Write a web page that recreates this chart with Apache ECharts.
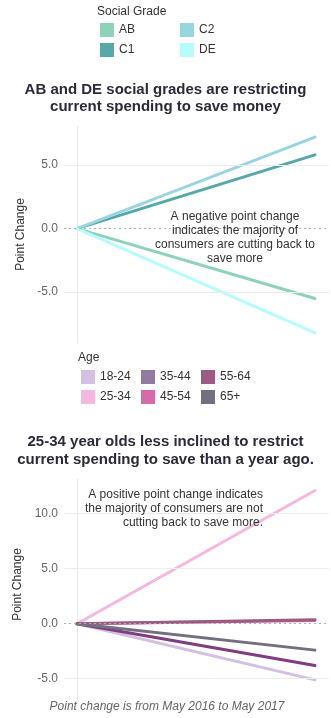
<!DOCTYPE html>
<html>
<head>
<meta charset="utf-8">
<script src="https://cdn.jsdelivr.net/npm/echarts@6/dist/echarts.min.js"></script>
<style>
html,body{margin:0;padding:0;background:#fff;}
#chart{width:331px;height:718px;}
</style>
</head>
<body>
<div id="chart"></div>
<script>
// ---- data ----
const periods = ['May 2016', 'May 2017'];
const socialGrades = ['AB', 'C1', 'C2', 'DE'];
const socialStart = [0, 0, 0, 0];
const socialEnd = [-5.5, 5.8, 7.2, -8.2];
const socialColors = ['#8fd1b9', '#57a8a8', '#99d5e0', '#b6fcfc'];
const ageGroups = ['18-24', '25-34', '35-44', '45-54', '55-64', '65+'];
const ageStart = [0, 0, 0, 0, 0, 0];
const ageEnd = [-5.1, 12.1, -3.8, 0.3, 0.35, -2.4];
const ageLegendColors = ['#d5bfe3', '#f5b6df', '#937aa0', '#d76aa9', '#9b5b82', '#747080'];
const ageLineColors = ['#d5bfe3', '#f5b6df', '#7f3d7f', '#d76aa9', '#9b5b82', '#747080'];
const yTicks1 = [-5, 0, 5];
const yTicks2 = [-5, 0, 5, 10];

const FONT = '"Liberation Sans", Arial, sans-serif';
const chart = echarts.init(document.getElementById('chart'), null, {renderer: 'canvas'});

function yAxis(gridIndex, min, max, splitNumber, ticks, namePad) {
  return {
    type: 'value', gridIndex, min, max, splitNumber,
    name: 'Point Change', nameLocation: 'middle', nameGap: 36, nameRotate: 90,
    nameTextStyle: {fontFamily: FONT, fontSize: 12, color: '#333', padding: namePad},
    axisLine: {show: true, lineStyle: {color: '#e8e8e8', width: 1}},
    axisTick: {show: false},
    splitLine: {show: false},
    axisLabel: {
      fontFamily: FONT, fontSize: 12, color: '#666', margin: 6,
      showMinLabel: true, showMaxLabel: true,
      formatter: v => ticks.some(t => Math.abs(t - v) < 1e-6) ? v.toFixed(1) : ''
    }
  };
}
function xAxis(gridIndex) {
  return {type: 'value', gridIndex, min: -0.0546, max: 1.059, show: false};
}
function gridMarks(ticks) {
  return {
    silent: true, symbol: 'none', label: {show: false}, animation: false,
    data: ticks.map(t => ({
      yAxis: t,
      lineStyle: t === 0 ? {type: [2, 3], color: '#b0b0b0', width: 1} : {type: 'solid', color: '#ececec', width: 1}
    }))
  };
}

const series = [];
series.push({type: 'line', xAxisIndex: 0, yAxisIndex: 0, data: [], z: 1, markLine: gridMarks(yTicks1)});
socialGrades.forEach((g, i) => {
  series.push({
    name: g, type: 'line', xAxisIndex: 0, yAxisIndex: 0, z: 3,
    data: periods.map((p, k) => [k, k === 0 ? socialStart[i] : socialEnd[i]]),
    symbol: 'none', itemStyle: {color: socialColors[i]},
    lineStyle: {color: socialColors[i], width: 3, cap: 'round'}
  });
});
series.push({type: 'line', xAxisIndex: 1, yAxisIndex: 1, data: [], z: 1, markLine: gridMarks(yTicks2)});
ageGroups.forEach((g, i) => {
  series.push({
    name: g, type: 'line', xAxisIndex: 1, yAxisIndex: 1, z: 3,
    data: periods.map((p, k) => [k, k === 0 ? ageStart[i] : ageEnd[i]]),
    symbol: 'none', itemStyle: {color: ageLegendColors[i]},
    lineStyle: {color: ageLineColors[i], width: 3, cap: 'round'}
  });
});

function legend(names, colors, left, top) {
  return {
    orient: 'vertical', left, top, padding: 0, itemWidth: 14, itemHeight: 14, itemGap: 6,
    icon: 'rect', selectedMode: false,
    textStyle: {fontFamily: FONT, fontSize: 12, color: '#333'},
    data: names.map(n => ({name: n, icon: 'rect', itemStyle: {color: colors[n]}}))
  };
}
const sc = {}; socialGrades.forEach((g, i) => sc[g] = socialColors[i]);
const ac = {}; ageGroups.forEach((g, i) => ac[g] = ageLegendColors[i]);

const option = {
  animation: false,
  backgroundColor: '#fff',
  title: [
    {text: 'AB and DE social grades are restricting\ncurrent spending to save money', left: 'center', top: 81, padding: 0,
     textStyle: {fontFamily: FONT, fontSize: 15, fontWeight: 'bold', color: '#2a2a3a', lineHeight: 17}},
    {text: '25-34 year olds less inclined to restrict\ncurrent spending to save than a year ago.', left: 'center', top: 433, padding: 0,
     textStyle: {fontFamily: FONT, fontSize: 15, fontWeight: 'bold', color: '#2a2a3a', lineHeight: 18}}
  ],
  legend: [
    legend(['AB', 'C1'], sc, 100, 23),
    legend(['C2', 'DE'], sc, 180, 23),
    legend(['18-24', '25-34'], ac, 81, 370),
    legend(['35-44', '45-54'], ac, 141, 370),
    legend(['55-64', '65+'], ac, 201, 370)
  ],
  grid: [
    {left: 64, right: 2, top: 126, height: 217},
    {left: 64, right: 2, top: 479, height: 221}
  ],
  xAxis: [xAxis(0), xAxis(1)],
  yAxis: [yAxis(0, -9.0, 8.07, 3, yTicks1, 0), yAxis(1, -6.93, 13.14, 4, yTicks2, [0, 0, 0, 10])],
  series,
  graphic: [
    {type: 'text', left: 97, top: 6, style: {text: 'Social Grade', font: '12px ' + FONT, fill: '#333'}},
    {type: 'text', left: 78, top: 352, style: {text: 'Age', font: '12px ' + FONT, fill: '#333'}},
    {type: 'text', x: 235, y: 210, z: 10, style: {
      text: 'A negative point change\nindicates the majority of\nconsumers are cutting back to\nsave more',
      font: '12px ' + FONT, fill: '#333', align: 'center', verticalAlign: 'top', lineHeight: 14}},
    {type: 'text', x: 263, y: 488, z: 10, style: {
      text: 'A positive point change indicates\nthe majority of consumers are not\ncutting back to save more.',
      font: '12px ' + FONT, fill: '#333', align: 'right', verticalAlign: 'top', lineHeight: 14}},
    {type: 'text', x: 167, y: 707, style: {
      text: 'Point change is from May 2016 to May 2017',
      font: 'italic 12px ' + FONT, fill: '#666', align: 'center', verticalAlign: 'middle'}}
  ]
};
chart.setOption(option);
</script>
</body>
</html>
